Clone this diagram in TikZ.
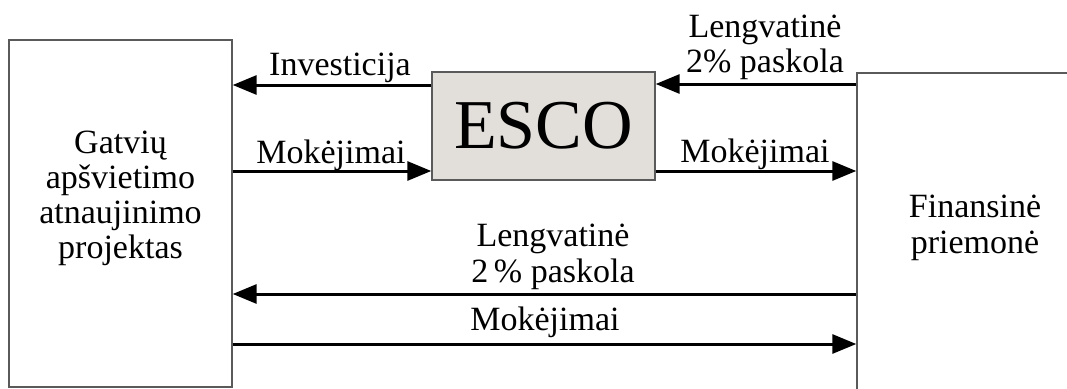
\documentclass[tikz,border=0pt]{standalone}
\usepackage{fontspec}
\setmainfont{Liberation Serif}
\usetikzlibrary{arrows.meta}
\definecolor{boxgray}{HTML}{5A5A5A}
\definecolor{escofill}{HTML}{E2DEDA}
\begin{document}
\begin{tikzpicture}[x=1pt,y=-1pt,
  box/.style={draw=boxgray, line width=1.4pt, inner sep=0pt},
  lbl/.style={font=\fontsize{34}{36}\selectfont, inner sep=0pt, align=center, anchor=base},
  arr/.style={draw=black, line width=3pt, -{Triangle[length=24pt,width=19pt]}}]
\useasboundingbox (0,0) rectangle (1067,388);
\clip (0,0) rectangle (1067,388);
% boxes
\node[box, minimum width=223pt, minimum height=347pt] (L) at (120.5,213.5) {};
\node[box, fill=escofill, minimum width=223pt, minimum height=108pt,
      font=\fontsize{70}{70}\selectfont] (E) at (543.5,126) {ESCO};
\node[box, minimum width=236pt, minimum height=340pt] (R) at (975,243) {};
% box texts (base anchor = baseline of the last line)
\node[lbl] (Ltxt) at (120.5,258) {Gatvių\\[-1pt]apšvietimo\\[-1pt]atnaujinimo\\[-1pt]projektas};
\node[lbl] (Rtxt) at (975,253) {Finansinė\\priemonė};
% connectors
\draw[arr] (E.west |- 0,85) -- (L.east |- 0,85);
\draw[arr] (L.east |- 0,171) -- (E.west |- 0,171);
\draw[arr] (R.west |- 0,84) -- (E.east |- 0,84);
\draw[arr] (E.east |- 0,171) -- (R.west |- 0,171);
\draw[arr] (R.west |- 0,294) -- (L.east |- 0,294);
\draw[arr] (L.east |- 0,344) -- (R.west |- 0,344);
% connector labels
\node[lbl] (l1) at (340,75) {Investicija};
\node[lbl] (l2) at (331,163) {Mokėjimai};
\node[lbl] (l3) at (765,72) {Lengvatinė\\[-1pt]2\% paskola};
\node[lbl] (l4) at (755,162) {Mokėjimai};
\node[lbl] (l5) at (553,282) {Lengvatinė\\2\,\% paskola};
\node[lbl] (l6) at (545,330) {Mokėjimai};
\end{tikzpicture}
\end{document}
